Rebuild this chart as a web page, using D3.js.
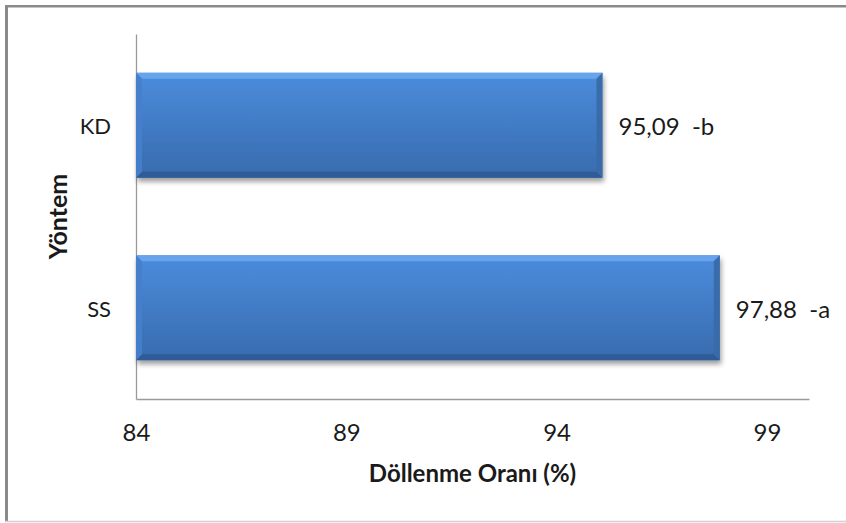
<!DOCTYPE html>
<html>
<head>
<meta charset="utf-8">
<script src="https://cdn.jsdelivr.net/npm/d3@7"></script>
<style>
  html, body { margin: 0; padding: 0; background: #ffffff; }
  svg { display: block; }
  text { font-family: "Lato", "Open Sans", sans-serif; fill: #1a1a1a; white-space: pre; }
</style>
</head>
<body>
<svg id="chart" width="846" height="523"></svg>
<script>
// ---- data ----
const categories = ["KD", "SS"];
const values = [95.09, 97.88];
const letters = ["b", "a"];
const tickValues = [84, 89, 94, 99];
const xDomain = [84, 100];
const xTitle = "Döllenme Oranı (%)";
const yTitle = "Yöntem";

// ---- layout ----
const W = 846, H = 523;
const plot = { left: 136, right: 809, top: 34, bottom: 399 };

const svg = d3.select("#chart");

// frame
svg.append("rect").attr("x", 0).attr("y", 0).attr("width", W).attr("height", H).attr("fill", "#fff");
svg.append("line").attr("x1", 6.5).attr("x2", 6.5).attr("y1", 5).attr("y2", 522)
  .attr("stroke", "#8a8a8a").attr("stroke-width", 3);
svg.append("line").attr("x1", 5).attr("x2", W).attr("y1", 6.2).attr("y2", 6.2)
  .attr("stroke", "#8a8a8a").attr("stroke-width", 2.5);
svg.append("line").attr("x1", 5).attr("x2", W).attr("y1", 521.5).attr("y2", 521.5)
  .attr("stroke", "#d0d0d0").attr("stroke-width", 1.5);

// defs
const defs = svg.append("defs");
const grad = defs.append("linearGradient").attr("id", "barGrad")
  .attr("x1", 0).attr("y1", 0).attr("x2", 0).attr("y2", 1);
grad.append("stop").attr("offset", "0%").attr("stop-color", "#4b8cdc");
grad.append("stop").attr("offset", "100%").attr("stop-color", "#386bae");
const shadow = defs.append("filter").attr("id", "shadow")
  .attr("x", "-5%").attr("y", "-20%").attr("width", "115%").attr("height", "150%");
shadow.append("feDropShadow").attr("dx", 1.5).attr("dy", 4).attr("stdDeviation", 2.5)
  .attr("flood-color", "#000").attr("flood-opacity", 0.38);

// scales
const x = d3.scaleLinear().domain(xDomain).range([plot.left, plot.right]);
const y = d3.scaleBand().domain(categories).range([plot.top, plot.bottom])
  .paddingInner(0.425).paddingOuter(0.2125);

// axes
const xAxis = d3.axisBottom(x).tickValues(tickValues).tickSize(0).tickPadding(0)
  .tickFormat(d3.format("d"));
const gx = svg.append("g").attr("transform", `translate(0,${plot.bottom})`).call(xAxis);
gx.select(".domain").attr("stroke", "#9a9a9a").attr("stroke-width", 1.3);
gx.selectAll(".tick text").attr("y", 42).attr("dy", 0)
  .style("font-family", "Lato").style("font-size", "24px").attr("fill", "#1a1a1a");

const yAxis = d3.axisLeft(y).tickSize(0).tickPadding(0);
const gy = svg.append("g").attr("transform", `translate(${plot.left},0)`).call(yAxis);
gy.select(".domain").attr("stroke", "#9a9a9a").attr("stroke-width", 1.3);
gy.selectAll(".tick text").attr("x", -25).attr("dy", 9).attr("text-anchor", "end")
  .style("font-family", "Lato").style("font-size", "22px").attr("fill", "#1a1a1a")
  .attr("dominant-baseline", "auto");

// bars
const data = categories.map((c, i) => ({ c, v: values[i], l: letters[i] }));
const bev = 6;
const bars = svg.append("g").selectAll("g.bar").data(data).join("g").attr("class", "bar");

bars.append("rect")
  .attr("x", x(xDomain[0]))
  .attr("y", d => y(d.c))
  .attr("width", d => x(d.v) - x(xDomain[0]))
  .attr("height", y.bandwidth())
  .attr("fill", "url(#barGrad)")
  .attr("filter", "url(#shadow)");

// bevels
function poly(pts) { return pts.map(p => p.join(",")).join(" "); }
bars.append("polygon").attr("points", d => {
  const x0 = x(xDomain[0]), x1 = x(d.v), y0 = y(d.c);
  return poly([[x0, y0], [x1, y0], [x1 - bev, y0 + bev], [x0 + bev, y0 + bev]]);
}).attr("fill", "#6aa6ec").attr("opacity", 0.9);
bars.append("polygon").attr("points", d => {
  const x0 = x(xDomain[0]), x1 = x(d.v), y1 = y(d.c) + y.bandwidth();
  return poly([[x0, y1], [x1, y1], [x1 - bev, y1 - bev], [x0 + bev, y1 - bev]]);
}).attr("fill", "#2f5a93").attr("opacity", 0.9);
bars.append("polygon").attr("points", d => {
  const x1 = x(d.v), y0 = y(d.c), y1 = y(d.c) + y.bandwidth();
  return poly([[x1, y0], [x1, y1], [x1 - bev, y1 - bev], [x1 - bev, y0 + bev]]);
}).attr("fill", "#3a6aa8").attr("opacity", 0.95);
bars.append("polygon").attr("points", d => {
  const x0 = x(xDomain[0]), y0 = y(d.c), y1 = y(d.c) + y.bandwidth();
  return poly([[x0, y0], [x0 + bev, y0 + bev], [x0 + bev, y1 - bev], [x0, y1]]);
}).attr("fill", "#4680cc").attr("opacity", 0.9);

// value labels
const fmt = v => d3.format(".2f")(v).replace(".", ",");
bars.append("text")
  .attr("x", d => x(d.v) + 16)
  .attr("y", d => y(d.c) + y.bandwidth() / 2 + 10)
  .style("font-size", "24px")
  .text(d => `${fmt(d.v)}  -${d.l}`);

// axis titles
svg.append("text")
  .attr("x", (plot.left + plot.right) / 2)
  .attr("y", 482)
  .attr("text-anchor", "middle")
  .style("font-size", "24px").style("font-weight", "bold")
  .attr("fill", "#111")
  .text(xTitle);

svg.append("text")
  .attr("transform", `translate(67,${(plot.top + plot.bottom) / 2}) rotate(-90)`)
  .attr("text-anchor", "middle")
  .style("font-size", "25px").style("font-weight", "bold")
  .attr("fill", "#111")
  .text(yTitle);
</script>
</body>
</html>
